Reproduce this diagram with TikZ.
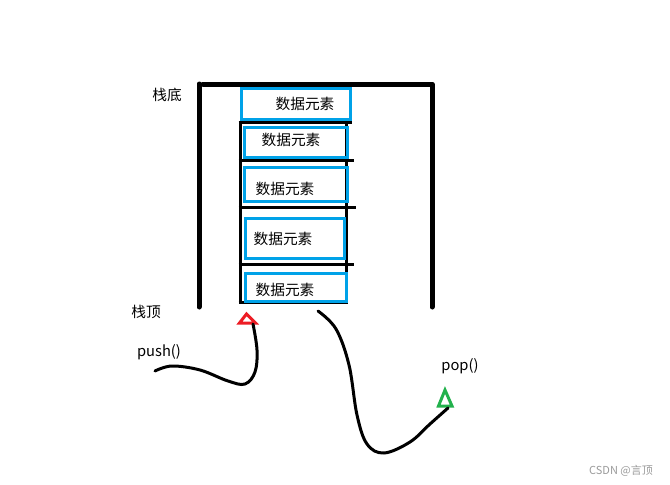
\documentclass[tikz,border=0pt]{standalone}
\usepackage{fontspec}
\setmainfont{Noto Sans CJK SC}
\definecolor{paintblue}{HTML}{00A2E8}
\definecolor{paintred}{HTML}{ED1C24}
\definecolor{paintgreen}{HTML}{22B14C}
\definecolor{wmgray}{HTML}{9A9A9A}
\tikzset{
  wall/.style={line width=5pt, line cap=round, line join=round},
  sep/.style={line width=3pt},
  elem/.style={draw=paintblue, line width=3pt, inner sep=0pt, anchor=north west},
  elemtext/.style={font=\fontsize{14.7}{16}\selectfont, inner sep=0pt},
  lbl/.style={font=\fontsize{14.7}{16}\selectfont, inner sep=0pt},
  curve/.style={line width=3pt, line cap=round},
}
\begin{document}
\begin{tikzpicture}[x=1pt,y=-1pt]
\useasboundingbox (0,0) rectangle (670,485);
% stack walls
\coordinate (lwb) at (199,307);
\coordinate (lwt) at (199,84);
\coordinate (tl) at (203,84);
\coordinate (tr) at (432,84);
\coordinate (rwb) at (432,307);
\draw[wall] (lwb) -- (lwt);
\draw[wall] (tl) -- (tr) -- (rwb);
% inner lines
\coordinate (il1) at (240,122);
\coordinate (il2) at (240,303);
\coordinate (ir1) at (346,122);
\coordinate (ir2) at (346,303);
\draw[sep] (il1) -- (il2);
\draw[sep] (ir1) -- (ir2);
\coordinate (h1a) at (238.5,122); \coordinate (h1b) at (352,122);
\coordinate (h2a) at (238.5,160); \coordinate (h2b) at (354,160);
\coordinate (h3a) at (238.5,207); \coordinate (h3b) at (356,207);
\coordinate (h4a) at (238.5,264); \coordinate (h4b) at (354,264);
\coordinate (h5a) at (238.5,302); \coordinate (h5b) at (347.5,302);
\draw[sep] (h1a) -- (h1b);
\draw[sep] (h2a) -- (h2b);
\draw[sep] (h3a) -- (h3b);
\draw[sep] (h4a) -- (h4b);
\draw[sep] (h5a) -- (h5b);
% element boxes
\node[elem, minimum width=109pt, minimum height=31pt] (b1) at (240,87) {};
\node[elem, minimum width=103pt, minimum height=30pt] (b2) at (243,126) {};
\node[elem, minimum width=103pt, minimum height=34pt] (b3) at (243,166) {};
\node[elem, minimum width=99pt, minimum height=40pt] (b4) at (244,217) {};
\node[elem, minimum width=101pt, minimum height=28pt] (b5) at (244,272) {};
\node[elemtext] (t1) at (305,104) {数据元素};
\node[elemtext] (t2) at (291,140) {数据元素};
\node[elemtext] (t3) at (285,189) {数据元素};
\node[elemtext] (t4) at (283,239) {数据元素};
\node[elemtext] (t5) at (285,290) {数据元素};
% labels
\node[lbl] (bottom) at (167,95) {栈底};
\node[lbl] (top) at (146,312) {栈顶};
\node[lbl] (push) at (159,352) {push()};
\node[lbl] (pop) at (460,366) {pop()};
% triangles
\coordinate (ra) at (246.5,314);
\coordinate (rl) at (239.5,323);
\coordinate (rr) at (255.5,323);
\coordinate (rbase) at (253,324);
\draw[paintred, line width=3pt, line join=miter] (rl) -- (ra) -- (rr) -- cycle;
\coordinate (ga) at (445,390);
\coordinate (gl) at (438.5,406);
\coordinate (gr) at (452,406);
\coordinate (gbase) at (448,408);
\draw[paintgreen, line width=3pt, line join=miter] (gl) -- (ga) -- (gr) -- cycle;
% curves
\coordinate (pushstart) at (155,371);
\coordinate (popstart) at (318,311);
\draw[curve] plot[smooth, tension=0.6] coordinates {(pushstart) (172,366) (200,370) (228,381) (245,384) (255,372) (257,350) (rbase)};
\draw[curve] plot[smooth, tension=0.6] coordinates {(popstart) (336,329) (349,365) (357,415) (367,444) (384,453) (410,442) (430,424) (gbase)};
% watermark
\node[font=\fontsize{11}{12}\selectfont, text=wmgray, inner sep=0pt] (wm) at (621,471) {CSDN @言顶};
\end{tikzpicture}
\end{document}
